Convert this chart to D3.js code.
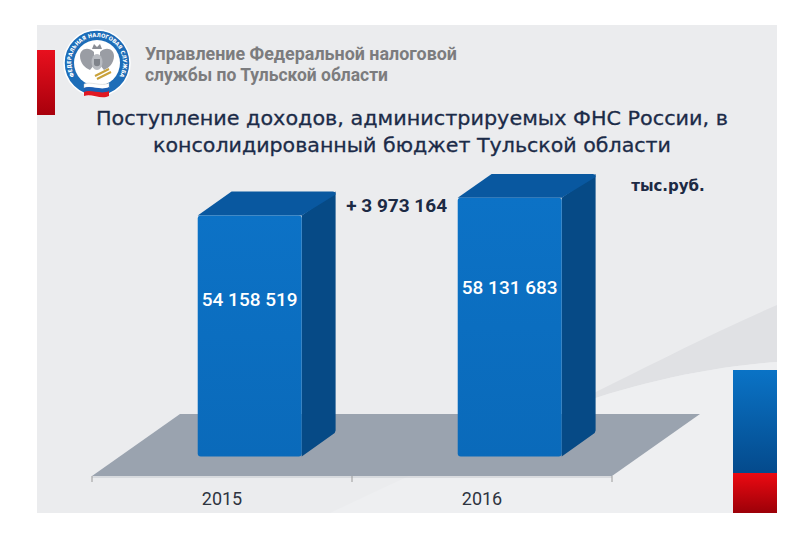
<!DOCTYPE html>
<html>
<head>
<meta charset="utf-8">
<script src="https://cdn.jsdelivr.net/npm/d3@7"></script>
<style>
  html, body { margin: 0; padding: 0; background: #fff; }
  svg { display: block; }
</style>
</head>
<body>
<svg id="chart" width="800" height="533"></svg>
<script>
// data
const years = ["2015", "2016"];
const revenue = [54158519, 58131683];
const orgLines = ["Управление Федеральной налоговой", "службы по Тульской области"];
const titleLines = ["Поступление доходов, администрируемых ФНС России, в", "консолидированный бюджет Тульской области"];
const unitLabel = "тыс.руб.";
const emblemText = "ФЕДЕРАЛЬНАЯ НАЛОГОВАЯ СЛУЖБА";

const ru = d3.formatLocale({decimal: ",", thousands: "\u00a0", grouping: [3], currency: ["", ""]});
const fmt = ru.format(",d");

const svg = d3.select("#chart");
const defs = svg.append("defs");

function vGrad(id, stops) {
  const g = defs.append("linearGradient").attr("id", id)
    .attr("x1", 0).attr("y1", 0).attr("x2", 0).attr("y2", 1);
  stops.forEach(s => g.append("stop").attr("offset", s[0]).attr("stop-color", s[1]));
}
vGrad("redGrad", [[0, "#e8101e"], [1, "#a8000c"]]);
vGrad("blueStrip", [[0, "#0a73c6"], [1, "#044a8c"]]);
vGrad("redStrip", [[0, "#ec0a12"], [1, "#9c0008"]]);
vGrad("frontGrad", [[0, "#0c72c6"], [1, "#0a6aba"]]);

// panel
svg.append("rect").attr("x", 37).attr("y", 25).attr("width", 740).attr("height", 488)
  .attr("fill", "#ebecee");

// soft swoosh at the lower right
svg.append("path")
  .attr("d", "M560,410 C650,365 715,332 777,305 L777,362 C700,368 630,385 560,410 Z")
  .attr("fill", "#e0e1e4");
svg.append("path")
  .attr("d", "M560,410 C630,385 700,368 777,362 L777,513 L330,513 C420,470 500,435 560,410 Z")
  .attr("fill", "#eeeff1");

// side strips
svg.append("rect").attr("x", 37).attr("y", 50).attr("width", 18).attr("height", 65)
  .attr("fill", "url(#redGrad)");
svg.append("rect").attr("x", 733).attr("y", 370).attr("width", 44).attr("height", 103)
  .attr("fill", "url(#blueStrip)");
svg.append("rect").attr("x", 733).attr("y", 473).attr("width", 44).attr("height", 40)
  .attr("fill", "url(#redStrip)");

// logo
const logo = svg.append("g").attr("transform", "translate(97,63)");
logo.append("circle").attr("r", 33).attr("fill", "#1d6db8").attr("stroke", "#fff").attr("stroke-width", 1.5);
logo.append("circle").attr("r", 23).attr("fill", "#fff");
defs.append("path").attr("id", "ringPath").attr("d", "M-22.5,13 A26,26 0 1,1 22.5,13");
logo.append("text").attr("font-family", "'DejaVu Sans Condensed', 'DejaVu Sans'").attr("font-size", 5.6).attr("font-weight", "bold")
  .attr("fill", "#fff")
  .append("textPath").attr("href", "#ringPath").attr("startOffset", "50%").attr("text-anchor", "middle")
  .text(emblemText);
// eagle
const eagle = logo.append("g").attr("transform", "translate(0,-2)");
eagle.append("path")
  .attr("d", "M-3,-9 C-9,-15 -17,-12 -17,-5 C-17,2 -12,7 -7,9 L-3,4 Z M3,-9 C9,-15 17,-12 17,-5 C17,2 12,7 7,9 L3,4 Z")
  .attr("fill", "#9a9da4");
eagle.append("path").attr("d", "M-5,-12 L-3,-17 L0,-14 L3,-17 L5,-12 Z").attr("fill", "#8a8d94");
eagle.append("ellipse").attr("cy", 1).attr("rx", 5.5).attr("ry", 8).attr("fill", "#b8bbc1");
eagle.append("path").attr("d", "M-3,-2 L3,-2 L3,3 C3,6 -3,6 -3,3 Z").attr("fill", "#7f838b");
logo.append("path").attr("d", "M-2,13 L12,6 M0,16 L14,9").attr("stroke", "#c9a23b").attr("stroke-width", 2);
// flag
const flagY = [21, 25, 29];
const flagC = ["#ffffff", "#1d5fb3", "#e11822"];
flagY.forEach((y, i) => {
  logo.append("path")
    .attr("d", `M-13,${y} C-6,${y - 3} 4,${y + 3} 12,${y - 1} L12,${y + 4} C4,${y + 8} -6,${y + 1} -13,${y + 4} Z`)
    .attr("fill", flagC[i]).attr("stroke", i === 0 ? "#bbb" : "none").attr("stroke-width", 0.4);
});

// header text
svg.append("g").selectAll("text").data(orgLines).join("text")
  .attr("x", 145).attr("y", (d, i) => 60 + i * 21)
  .attr("font-family", "Roboto, 'Liberation Sans', sans-serif")
  .attr("font-weight", 700).attr("font-size", 18.5)
  .attr("fill", "#7c7c7e")
  .attr("textLength", (d, i) => i === 0 ? 312 : 243)
  .attr("lengthAdjust", "spacingAndGlyphs")
  .text(d => d);

// title
svg.append("g").selectAll("text").data(titleLines).join("text")
  .attr("x", 412).attr("y", (d, i) => 125 + i * 27)
  .attr("text-anchor", "middle")
  .attr("font-family", "'DejaVu Sans', sans-serif")
  .attr("font-size", 20)
  .attr("fill", "#1b2b48")
  .attr("stroke", "#1b2b48").attr("stroke-width", 0.3)
  .attr("textLength", (d, i) => i === 0 ? 632 : 518)
  .attr("lengthAdjust", "spacingAndGlyphs")
  .text(d => d);

// geometry of the 3D chart
const frontY = 476;
const depthVec = [88, -62];
const x = d3.scaleBand().domain(years).range([92, 612]).paddingInner(0.6).paddingOuter(0.3);
const h = d3.scaleLinear().domain([0, 60e6]).range([0, 267]);
const d0 = 0.315, d1 = 0.7;

// floor
const floorPts = [[92, frontY], [612, frontY], [612 + depthVec[0], frontY + depthVec[1]], [92 + depthVec[0], frontY + depthVec[1]]];
svg.append("path").attr("d", d3.line()(floorPts) + "Z").attr("fill", "#9aa3af");
svg.append("line").attr("x1", 92).attr("x2", 612).attr("y1", frontY + 1).attr("y2", frontY + 1)
  .attr("stroke", "#c4c8ce").attr("stroke-width", 1.2);
// ticks
const tickX = [92, 612].concat(years.slice(1).map(y => x(y) - x.step() * x.paddingInner() / 2));
svg.append("g").selectAll("line").data(tickX).join("line")
  .attr("x1", d => d).attr("x2", d => d).attr("y1", frontY).attr("y2", frontY + 6)
  .attr("stroke", "#9a9a9a");

// year labels
svg.append("g").selectAll("text").data(years).join("text")
  .attr("x", d => x(d) + x.bandwidth() / 2).attr("y", 505)
  .attr("text-anchor", "middle")
  .attr("font-family", "Roboto, sans-serif").attr("font-size", 18)
  .attr("fill", "#2e3440")
  .text(d => d);

// bars
const bars = years.map((y, i) => {
  const x0 = x(y) + depthVec[0] * d0;
  const base = frontY + depthVec[1] * d0;
  const top = base - h(revenue[i]);
  return {year: y, value: revenue[i], x0, x1: x0 + x.bandwidth(), base, top,
    dx: depthVec[0] * (d1 - d0), dy: depthVec[1] * (d1 - d0)};
});
const barG = svg.append("g").selectAll("g").data(bars).join("g");
// side face
barG.append("path")
  .attr("d", b => `M${b.x1},${b.top} L${b.x1 + b.dx},${b.top + b.dy} L${b.x1 + b.dx},${b.base + b.dy - 2} Q${b.x1 + b.dx},${b.base + b.dy} ${b.x1 + b.dx - 3},${b.base + b.dy + 2} L${b.x1},${b.base} Z`)
  .attr("fill", "#064a86");
// top face
barG.append("path")
  .attr("d", b => `M${b.x0},${b.top} L${b.x0 + b.dx},${b.top + b.dy} L${b.x1 + b.dx - 3},${b.top + b.dy} Q${b.x1 + b.dx},${b.top + b.dy} ${b.x1 + b.dx},${b.top + b.dy + 3} L${b.x1},${b.top} Z`)
  .attr("fill", "#0958a0");
// front face
barG.append("rect")
  .attr("x", b => b.x0).attr("y", b => b.top)
  .attr("width", b => b.x1 - b.x0).attr("height", b => b.base - b.top)
  .attr("rx", 3)
  .attr("fill", "url(#frontGrad)");
// value labels
barG.append("text")
  .attr("x", b => (b.x0 + b.x1) / 2)
  .attr("y", b => b.top + (b.base - b.top) * 0.345 + 7)
  .attr("text-anchor", "middle")
  .attr("font-family", "Roboto, sans-serif").attr("font-weight", 500).attr("font-size", 19)
  .attr("fill", "#fff")
  .text(b => fmt(b.value));

// difference label
const diff = revenue[1] - revenue[0];
svg.append("text")
  .attr("x", (bars[0].x1 + bars[0].dx + bars[1].x0) / 2)
  .attr("y", bars[0].top - 3)
  .attr("text-anchor", "middle")
  .attr("font-family", "Roboto, sans-serif").attr("font-weight", 700).attr("font-size", 19)
  .attr("fill", "#1c2a44")
  .text("+ " + fmt(diff));

// unit
svg.append("text")
  .attr("x", 668).attr("y", 191)
  .attr("text-anchor", "middle")
  .attr("font-family", "'DejaVu Sans', sans-serif").attr("font-weight", 700).attr("font-size", 15)
  .attr("fill", "#1c2a44")
  .text(unitLabel);
</script>
</body>
</html>
